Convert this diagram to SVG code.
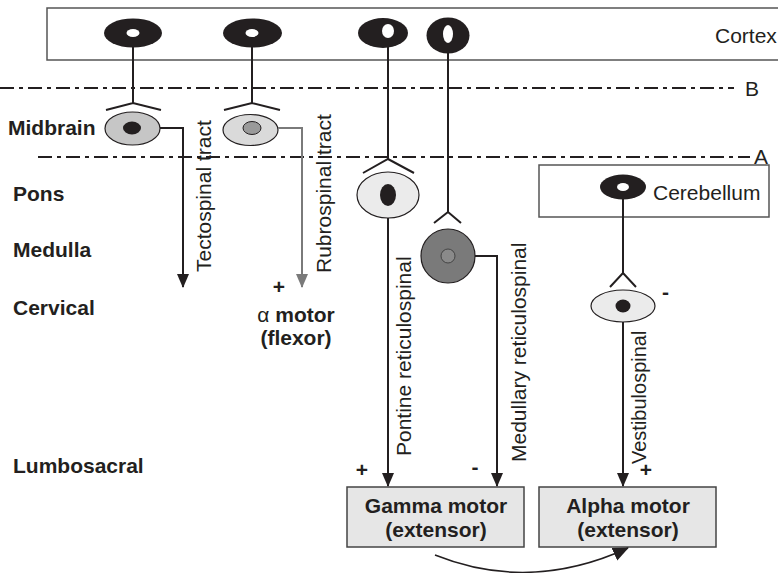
<svg xmlns="http://www.w3.org/2000/svg" width="778" height="573" viewBox="0 0 778 573">
<style>
text{font-family:"Liberation Sans",Arial,sans-serif;fill:#231f20}
.lbl{font-size:21px;font-weight:bold}
.reg{font-size:21px}
.box{fill:#fff;stroke:#555;stroke-width:1.5}
.mbox{fill:#e6e6e6;stroke:#444;stroke-width:1.5}
.dd{stroke:#231f20;stroke-width:2;stroke-dasharray:14 5 4 5;fill:none}
.ax{stroke:#231f20;stroke-width:2;fill:none}
.axg{stroke:#7a7a7a;stroke-width:2;fill:none}
.cn{fill:#231f20}
.cnuc{fill:#fff}
.cell{stroke:#231f20;stroke-width:1.2}
</style>
<defs>
<marker id="ah" viewBox="0 0 14 12" refX="13" refY="6" markerWidth="14" markerHeight="12" markerUnits="userSpaceOnUse" orient="auto"><path d="M0,0 L14,6 L0,12 z" fill="#231f20"/></marker>
<marker id="ahg" viewBox="0 0 14 12" refX="13" refY="6" markerWidth="14" markerHeight="12" markerUnits="userSpaceOnUse" orient="auto"><path d="M0,0 L14,6 L0,12 z" fill="#7a7a7a"/></marker>
<marker id="ahc" viewBox="0 0 16 14" refX="15" refY="7" markerWidth="16" markerHeight="14" markerUnits="userSpaceOnUse" orient="auto"><path d="M0,0 L16,7 L0,14 z" fill="#231f20"/></marker>
</defs>
<rect width="778" height="573" fill="#fff"/>

<g id="levels">
<line class="dd" x1="0" y1="88" x2="734" y2="88"/>
<text class="reg" x="745" y="96">B</text>
<line class="dd" x1="38" y1="157" x2="750" y2="157"/>
<text class="reg" x="754" y="164">A</text>
<text class="lbl" x="8" y="135">Midbrain</text>
<text class="lbl" x="13" y="201">Pons</text>
<text class="lbl" x="13" y="257">Medulla</text>
<text class="lbl" x="13" y="315">Cervical</text>
<text class="lbl" x="13" y="473">Lumbosacral</text>
</g>

<g id="cortex">
<rect class="box" x="47" y="8" width="745" height="52"/>
<text class="reg" x="715" y="43">Cortex</text>
</g>

<g id="cerebellum">
<rect class="box" x="539" y="165" width="230" height="52"/>
<text class="reg" x="653" y="200">Cerebellum</text>
</g>

<g id="cortex-neuron-1">
<ellipse class="cn" cx="133" cy="33" rx="29" ry="14.5"/>
<ellipse class="cnuc" cx="133" cy="33" rx="6.5" ry="4"/>
</g>
<g id="cortex-neuron-2">
<ellipse class="cn" cx="252.5" cy="33" rx="29.5" ry="14.5"/>
<ellipse class="cnuc" cx="252" cy="33" rx="6.5" ry="4"/>
</g>
<g id="cortex-neuron-3">
<ellipse class="cn" cx="383" cy="33" rx="25" ry="15"/>
<ellipse class="cnuc" cx="388" cy="31" rx="6" ry="7"/>
</g>
<g id="cortex-neuron-4">
<ellipse class="cn" cx="448" cy="35.5" rx="21.5" ry="18"/>
<ellipse class="cnuc" cx="448" cy="34" rx="5" ry="9"/>
</g>
<g id="cerebellum-neuron">
<ellipse class="cn" cx="623" cy="187" rx="23" ry="12.5"/>
<ellipse class="cnuc" cx="623" cy="187" rx="6" ry="4"/>
</g>

<g id="tectal-neuron">
<ellipse class="cell" cx="132.5" cy="128.5" rx="27.5" ry="16.5" fill="#c6c6c6"/>
<ellipse cx="132" cy="128" rx="9" ry="6.5" fill="#231f20"/>
</g>
<g id="red-nucleus-neuron">
<ellipse class="cell" cx="250.5" cy="130" rx="27.5" ry="15.5" fill="#dadada"/>
<ellipse cx="252" cy="128" rx="9" ry="6.5" fill="#9a9a9a" stroke="#231f20" stroke-width="1"/>
</g>
<g id="pontine-neuron">
<ellipse class="cell" cx="388" cy="195" rx="31" ry="23" fill="#ebebeb"/>
<ellipse cx="388" cy="195" rx="8" ry="11" fill="#231f20"/>
</g>
<g id="medullary-neuron">
<circle class="cell" cx="448" cy="256" r="27" fill="#7a7a7a"/>
<circle cx="448" cy="256" r="7" fill="#8a8a8a" stroke="#444" stroke-width="1"/>
</g>
<g id="vestibular-neuron">
<ellipse class="cell" cx="623" cy="306" rx="32" ry="16" fill="#ebebeb"/>
<ellipse cx="623" cy="306" rx="7.5" ry="6.5" fill="#231f20"/>
<text class="lbl" x="662" y="299">-</text>
</g>

<g id="gamma-motor">
<rect class="mbox" x="347" y="487" width="177" height="60"/>
<text class="lbl" x="436" y="513" text-anchor="middle">Gamma motor</text>
<text class="lbl" x="436" y="537" text-anchor="middle">(extensor)</text>
</g>
<g id="alpha-motor">
<rect class="mbox" x="539" y="487" width="177" height="60"/>
<text class="lbl" x="628" y="513" text-anchor="middle">Alpha motor</text>
<text class="lbl" x="628" y="537" text-anchor="middle">(extensor)</text>
</g>

<g id="alpha-flexor">
<text x="296" y="322" text-anchor="middle" style="font-size:21px"><tspan>α </tspan><tspan font-weight="bold">motor</tspan></text>
<text class="lbl" x="296" y="345" text-anchor="middle">(flexor)</text>
</g>

<g id="connectors">
<path class="ax" d="M133,47 V103 M106,110 L133,103 L161,110"/>
<path class="ax" d="M252,47 V103 M224,110 L252,103 L280,110"/>
<path class="ax" d="M388,38 V159 M363,173 L388,159 L414,173"/>
<path class="ax" d="M448,53 V212 M434,223 L448,212 L461,223"/>
<path class="ax" d="M623,199 V273 M610,287 L623,273 L636,287"/>
<path class="ax" d="M160,128 H183 V287" marker-end="url(#ah)"/>
<path class="axg" d="M278,128 H302 V287" marker-end="url(#ahg)"/>
<path class="ax" d="M388,218 V486" marker-end="url(#ah)"/>
<path class="ax" d="M475,256 H497 V486" marker-end="url(#ah)"/>
<path class="ax" d="M623,322 V486" marker-end="url(#ah)"/>
<path d="M435,555 Q530,593 628,548" fill="none" stroke="#231f20" stroke-width="1.5" marker-end="url(#ahc)"/>
<text class="reg" transform="translate(211,272) rotate(-90)">Tectospinal tract</text>
<text class="reg" transform="translate(331,273) rotate(-90)">Rubrospinal tract</text>
<text class="reg" transform="translate(411,456) rotate(-90)">Pontine reticulospinal</text>
<text class="reg" transform="translate(526,462) rotate(-90)">Medullary reticulospinal</text>
<text class="reg" style="font-size:20px" transform="translate(646,464) rotate(-90)">Vestibulospinal</text>
<text class="lbl" x="279" y="294" text-anchor="middle">+</text>
<text class="lbl" x="362" y="477" text-anchor="middle">+</text>
<text class="lbl" x="475" y="474" text-anchor="middle">-</text>
<text class="lbl" x="646" y="477" text-anchor="middle">+</text>
</g>
</svg>
